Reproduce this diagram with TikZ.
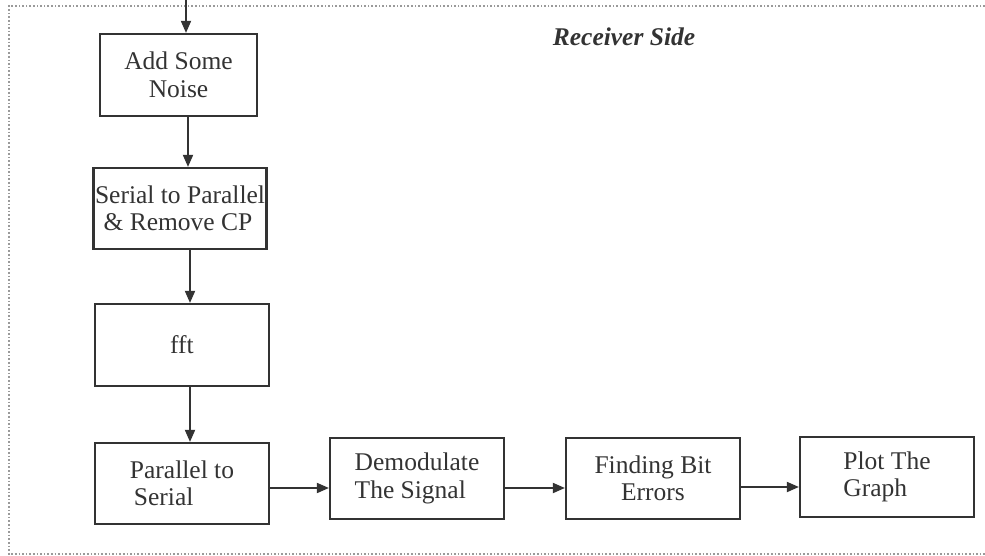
\documentclass[tikz,border=0pt]{standalone}
\usepackage{fontspec}
\setmainfont{Liberation Serif}
\usetikzlibrary{arrows.meta}
\definecolor{ink}{HTML}{333333}
\definecolor{frame}{HTML}{9A9A9A}
\begin{document}
\begin{tikzpicture}[x=1pt,y=-1pt,
  blk/.style={draw=ink,line width=2.2pt,minimum width=#1,inner sep=0pt,text=ink,
    font=\fontsize{25.5}{27.5}\selectfont},
  blk/.default=174pt,
  arr/.style={draw=ink,line width=1.8pt,-{Triangle[length=12pt,width=10pt]}},
]
\useasboundingbox (0,0) rectangle (985,556);
\draw[frame,line width=1.6pt,dotted] (985,6) -- (9,6) -- (9,554) -- (985,554);

\node[font=\fontsize{25.5}{28}\selectfont\bfseries\itshape,text=ink] (title) at (624,37) {Receiver Side};

\node[blk=157pt,minimum height=82pt,align=center] (n1) at (178.5,75) {Add Some\\Noise};
\node[blk=173pt,minimum height=81pt,align=center] (n2) at (180,208.5) {Serial to Parallel\\\hspace*{-4pt}\& Remove CP};
\node[blk=174pt,minimum height=82pt,align=center] (n3) at (182,345) {fft};
\node[blk=174pt,minimum height=81pt,align=left] (n4) at (182,483.5) {Parallel to\\\hspace*{4pt}Serial};
\node[blk=174pt,minimum height=81pt,align=left] (n5) at (417,478.5) {Demodulate\\The Signal};
\node[blk=174pt,minimum height=81pt,align=center] (n6) at (653,478.5) {Finding Bit\\Errors};
\node[blk=174pt,minimum height=80pt,align=left] (n7) at (887,477) {Plot The\\Graph};

\coordinate (in) at (186,0);
\draw[arr] (in) -- (in |- n1.north);
\draw[arr] ([xshift=9.5pt]n1.south) -- ([xshift=9.5pt]n1.south |- n2.north);
\draw[arr] ([xshift=10pt]n2.south) -- ([xshift=10pt]n2.south |- n3.north);
\draw[arr] ([xshift=8pt]n3.south) -- ([xshift=8pt]n3.south |- n4.north);
\draw[arr] ([yshift=-4.5pt]n4.east) -- ([yshift=-4.5pt]n4.east -| n5.west);
\draw[arr] ([yshift=-9.5pt]n5.east) -- ([yshift=-9.5pt]n5.east -| n6.west);
\draw[arr] ([yshift=-8.5pt]n6.east) -- ([yshift=-8.5pt]n6.east -| n7.west);
\end{tikzpicture}
\end{document}
